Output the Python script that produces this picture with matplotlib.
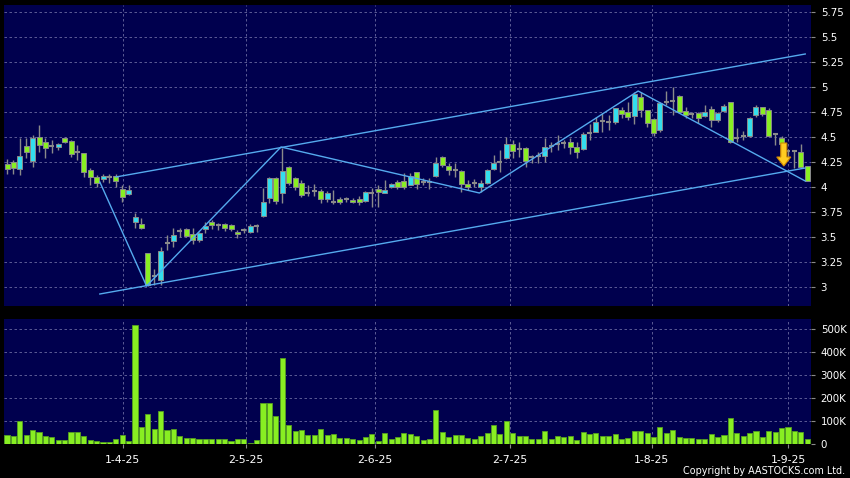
import numpy as np
import matplotlib
matplotlib.use('Agg')
import matplotlib.pyplot as plt

# daily candles, oldest first (prices in HKD, volume in thousands)
OPEN = [4.23, 4.25, 4.18, 4.41, 4.26, 4.50, 4.45, 4.41, 4.40, 4.49,
        4.46, 4.35, 4.34, 4.17, 4.10, 4.08, 4.10, 4.11, 3.98, 3.93,
        3.65, 3.63, 3.34, 3.11, 3.07, 3.44, 3.46, 3.56, 3.58, 3.53,
        3.47, 3.58, 3.65, 3.62, 3.63, 3.62, 3.55, 3.57, 3.55, 3.61,
        3.71, 3.89, 4.09, 3.94, 4.20, 4.09, 4.04, 3.94, 3.96, 3.96,
        3.88, 3.85, 3.88, 3.88, 3.87, 3.88, 3.86, 3.94, 3.98, 3.94,
        4.00, 4.05, 4.06, 4.02, 4.15, 4.05, 4.05, 4.11, 4.30, 4.21,
        4.17, 4.16, 4.03, 4.04, 4.00, 4.04, 4.18, 4.25, 4.29, 4.43,
        4.38, 4.39, 4.30, 4.31, 4.31, 4.41, 4.43, 4.44, 4.45, 4.40,
        4.38, 4.54, 4.55, 4.66, 4.65, 4.65, 4.77, 4.75, 4.71, 4.90,
        4.77, 4.68, 4.57, 4.85, 4.86, 4.91, 4.76, 4.73, 4.74, 4.71,
        4.78, 4.67, 4.76, 4.85, 4.49, 4.51, 4.51, 4.72, 4.80, 4.77,
        4.53, 4.49, 4.36, 4.36, 4.35, 4.21]
HIGH = [4.28, 4.27, 4.49, 4.49, 4.52, 4.62, 4.49, 4.47, 4.44, 4.50,
        4.47, 4.42, 4.34, 4.19, 4.12, 4.13, 4.13, 4.13, 4.02, 4.02,
        3.74, 3.69, 3.34, 3.18, 3.40, 3.52, 3.59, 3.59, 3.59, 3.59,
        3.55, 3.65, 3.67, 3.64, 3.64, 3.63, 3.57, 3.59, 3.63, 3.63,
        3.99, 4.10, 4.10, 4.39, 4.21, 4.10, 4.07, 4.02, 4.03, 3.98,
        3.96, 3.97, 3.90, 3.90, 3.89, 3.91, 3.96, 3.99, 4.02, 4.07,
        4.04, 4.07, 4.14, 4.14, 4.15, 4.09, 4.09, 4.30, 4.31, 4.24,
        4.24, 4.17, 4.07, 4.08, 4.07, 4.18, 4.32, 4.37, 4.50, 4.47,
        4.45, 4.40, 4.32, 4.35, 4.49, 4.45, 4.52, 4.47, 4.49, 4.45,
        4.55, 4.63, 4.70, 4.74, 4.72, 4.79, 4.80, 4.85, 4.95, 4.95,
        4.77, 4.69, 4.85, 4.96, 5.00, 4.92, 4.80, 4.75, 4.75, 4.82,
        4.81, 4.75, 4.83, 4.85, 4.59, 4.56, 4.70, 4.82, 4.80, 4.79,
        4.54, 4.51, 4.37, 4.37, 4.43, 4.21]
LOW = [4.13, 4.13, 4.12, 4.29, 4.20, 4.35, 4.29, 4.34, 4.37, 4.44,
       4.30, 4.27, 4.10, 4.02, 4.00, 4.05, 4.04, 4.00, 3.85, 3.92,
       3.59, 3.58, 3.01, 3.02, 3.02, 3.37, 3.40, 3.50, 3.50, 3.43,
       3.45, 3.54, 3.58, 3.57, 3.56, 3.56, 3.49, 3.54, 3.54, 3.55,
       3.70, 3.84, 3.83, 3.84, 4.02, 3.97, 3.90, 3.91, 3.91, 3.84,
       3.85, 3.83, 3.83, 3.85, 3.84, 3.82, 3.85, 3.80, 3.80, 3.94,
       3.99, 3.98, 3.98, 4.02, 3.98, 4.02, 3.98, 4.10, 4.20, 4.12,
       4.10, 3.95, 3.97, 4.00, 3.95, 4.03, 4.17, 4.15, 4.28, 4.29,
       4.30, 4.20, 4.24, 4.24, 4.25, 4.35, 4.37, 4.39, 4.33, 4.29,
       4.37, 4.47, 4.55, 4.55, 4.57, 4.63, 4.69, 4.67, 4.63, 4.70,
       4.60, 4.51, 4.55, 4.82, 4.72, 4.74, 4.69, 4.69, 4.64, 4.70,
       4.60, 4.65, 4.75, 4.44, 4.45, 4.47, 4.50, 4.70, 4.71, 4.50,
       4.42, 4.42, 4.30, 4.19, 4.19, 4.06]
CLOSE = [4.18, 4.19, 4.31, 4.35, 4.49, 4.42, 4.39, 4.41, 4.43, 4.45,
         4.33, 4.35, 4.15, 4.10, 4.04, 4.11, 4.10, 4.06, 3.90, 3.97,
         3.70, 3.59, 3.02, 3.11, 3.36, 3.44, 3.52, 3.56, 3.51, 3.47,
         3.54, 3.61, 3.62, 3.62, 3.59, 3.58, 3.53, 3.57, 3.61, 3.61,
         3.85, 4.09, 3.86, 4.16, 4.04, 4.00, 3.92, 3.94, 3.96, 3.88,
         3.94, 3.85, 3.85, 3.88, 3.85, 3.85, 3.95, 3.94, 3.95, 3.97,
         4.03, 4.00, 4.00, 4.11, 4.03, 4.05, 4.05, 4.24, 4.22, 4.17,
         4.17, 4.03, 4.00, 4.04, 4.04, 4.17, 4.24, 4.25, 4.43, 4.36,
         4.38, 4.26, 4.30, 4.31, 4.40, 4.41, 4.43, 4.44, 4.40, 4.35,
         4.53, 4.54, 4.65, 4.66, 4.65, 4.79, 4.73, 4.70, 4.93, 4.77,
         4.64, 4.54, 4.84, 4.85, 4.86, 4.75, 4.72, 4.73, 4.69, 4.75,
         4.67, 4.74, 4.81, 4.45, 4.49, 4.51, 4.69, 4.80, 4.73, 4.51,
         4.53, 4.43, 4.36, 4.36, 4.20, 4.06]
VOLUME = [38, 35, 100, 39, 62, 54, 33, 29, 16, 19,
          51, 51, 33, 19, 12, 10, 10, 22, 38, 14,
          514, 72, 128, 65, 141, 62, 65, 35, 26, 28,
          22, 22, 23, 20, 20, 12, 22, 23, 4, 16,
          178, 178, 120, 372, 83, 57, 59, 39, 38, 64,
          38, 45, 26, 25, 23, 16, 29, 45, 14, 48,
          23, 30, 46, 42, 33, 19, 22, 149, 51, 30,
          41, 41, 25, 20, 33, 48, 84, 43, 101, 49,
          33, 33, 23, 23, 58, 20, 36, 32, 36, 17,
          51, 43, 49, 35, 35, 43, 23, 26, 58, 57,
          49, 32, 72, 48, 61, 32, 25, 28, 23, 23,
          43, 29, 39, 112, 49, 35, 49, 57, 32, 57,
          54, 70, 74, 58, 52, 20]

MONTH_LABELS = ['1-4-25', '2-5-25', '2-6-25', '2-7-25', '1-8-25', '1-9-25']
MONTH_POS = [18.1, 37.3, 57.5, 78.6, 100.7, 122.0]

PRICE_TICKS = [3, 3.25, 3.5, 3.75, 4, 4.25, 4.5, 4.75, 5, 5.25, 5.5, 5.75]
VOL_TICKS = [0, 100, 200, 300, 400, 500]

# drawn trend lines (candle index, price)
ZIGZAG_X = [14.5, 21.8, 42.8, 73.8, 98.6, 124.7]
ZIGZAG_Y = [4.05, 3.01, 4.40, 3.94, 4.96, 4.06]
UPPER_X = [17.0, 124.7]
UPPER_Y = [4.10, 5.33]
LOWER_X = [14.5, 124.7]
LOWER_Y = [2.93, 4.19]
ARROW_AT = (121.35, 4.44, 4.21)

BG = '#00004e'
GRID = '#6a6aa0'
UP_C = '#33ddee'
DOWN_C = '#88ee22'
EDGE = '#8a8a8a'
LINE_C = '#55aaee'
TXT = '#ffffff'

plt.rcParams['font.family'] = ['DejaVu Sans']

fig = plt.figure(figsize=(8.5, 4.78), dpi=100, facecolor='black')
W, H = 850, 478
ax = fig.add_axes([4 / W, 1 - 306 / H, 807 / W, 301 / H])
axv = fig.add_axes([4 / W, 1 - 444 / H, 807 / W, 125 / H])

o = np.array(OPEN)
h = np.array(HIGH)
l = np.array(LOW)
c = np.array(CLOSE)
x = np.arange(len(o))

for a in (ax, axv):
    a.set_facecolor(BG)
    for s in a.spines.values():
        s.set_visible(False)
    a.set_xlim(-0.47, 125.6)
    a.yaxis.tick_right()
    a.tick_params(axis='y', colors=EDGE, labelcolor=TXT, length=3,
                  width=0.8, pad=4, labelsize=7.4)
    for mp in MONTH_POS:
        a.axvline(mp, color=GRID, lw=0.6, ls=(0, (3, 3)), zorder=0)

ax.set_ylim(2.81, 5.82)
ax.set_yticks(PRICE_TICKS)
ax.set_yticklabels([f'{v:g}' for v in PRICE_TICKS])
for v in PRICE_TICKS:
    ax.axhline(v, color=GRID, lw=0.6, ls=(0, (3, 3)), zorder=0)
ax.set_xticks([])

# candles
up = c > o
down = c < o
flat = c == o
ax.vlines(x, l, h, color=EDGE, lw=1, zorder=2)
bw = 0.78
ax.bar(x[up], (c - o)[up], bottom=o[up], width=bw, color=UP_C,
       edgecolor=EDGE, lw=0.7, zorder=3)
ax.bar(x[down], (o - c)[down], bottom=c[down], width=bw, color=DOWN_C,
       edgecolor=EDGE, lw=0.7, zorder=3)
ax.hlines(c[flat], x[flat] - bw / 2, x[flat] + bw / 2, color=EDGE, lw=1.5,
          zorder=3)

# trend lines
ax.plot(ZIGZAG_X, ZIGZAG_Y, color=LINE_C, lw=1, zorder=4)
ax.plot(UPPER_X, UPPER_Y, color=LINE_C, lw=1, zorder=4)
ax.plot(LOWER_X, LOWER_Y, color=LINE_C, lw=1, zorder=4)

ax_x, ay0, ay1 = ARROW_AT
ax.arrow(ax_x, ay0, 0, ay1 - ay0, width=0.95, head_width=2.2,
         head_length=0.09, length_includes_head=True, fc='#ffcc22',
         ec='#d08800', lw=0.8, zorder=5)

# volume
axv.set_ylim(0, 542)
axv.set_yticks(VOL_TICKS)
axv.set_yticklabels(['0'] + [f'{v}K' for v in VOL_TICKS[1:]])
for v in VOL_TICKS[1:]:
    axv.axhline(v, color=GRID, lw=0.6, ls=(0, (3, 3)), zorder=0)
axv.bar(x, VOLUME, width=0.8, color=DOWN_C, edgecolor='#55a020', lw=0.6,
        zorder=3)
axv.set_xticks(MONTH_POS)
axv.set_xticklabels(MONTH_LABELS)
axv.tick_params(axis='x', colors=EDGE, labelcolor=TXT, length=3, width=0.8,
                pad=5, labelsize=7.8)

fig.text(0.994, 1 - 471 / H, 'Copyright by AASTOCKS.com Ltd.', color=TXT,
         fontsize=6.9, ha='right', va='center')

fig.savefig('out.png', dpi=100, facecolor='black')
